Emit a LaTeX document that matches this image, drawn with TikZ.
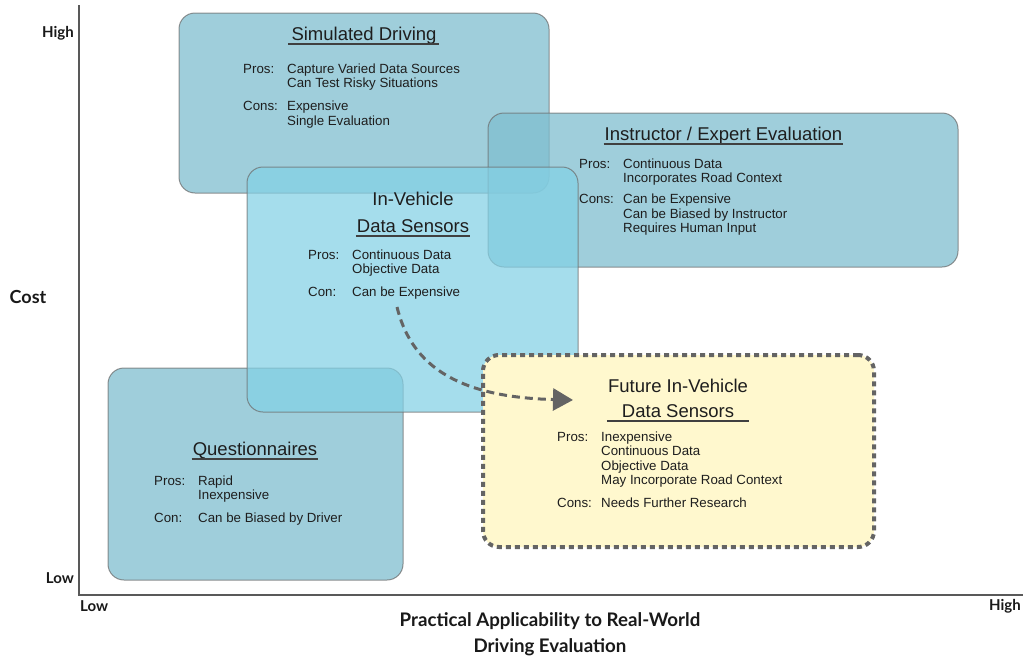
\documentclass[tikz,border=0pt]{standalone}
\usepackage{fontspec}
\setmainfont{Liberation Sans}
\newfontfamily\axisfont{Lato}
\usetikzlibrary{arrows.meta}
\definecolor{boxblue}{RGB}{127,190,207}
\definecolor{boxcyan}{RGB}{131,209,229}
\definecolor{futfill}{RGB}{255,248,206}
\definecolor{txt}{RGB}{30,30,30}
\definecolor{dashgray}{RGB}{100,100,100}
\definecolor{edgegray}{RGB}{110,110,110}
\newcommand{\prolab}[1]{\makebox[44pt][l]{#1}}
\tikzset{
  bluebox/.style={rectangle, rounded corners=16pt, fill=boxblue, fill opacity=0.75,
    draw=edgegray, draw opacity=0.75, line width=1pt, inner sep=0},
  cyanbox/.style={bluebox, fill=boxcyan, fill opacity=0.72},
  futbox/.style={rectangle, rounded corners=16pt, fill=futfill, draw=dashgray,
    line width=4pt, dash pattern=on 5pt off 4pt, inner sep=0},
  ttl/.style={font=\fontsize{18.5}{26}\selectfont, text=txt, inner sep=0, anchor=base},
  body/.style={font=\fontsize{13.3}{14.5}\selectfont, text=txt, inner sep=0, anchor=base west},
  uline/.style={draw=txt!85, line width=2.2pt},
  axislbl/.style={font=\axisfont\bfseries\fontsize{15}{17}\selectfont, text=black!90, inner sep=0},
  axistitle/.style={font=\axisfont\bfseries\fontsize{18.7}{26}\selectfont, text=black!90, inner sep=0, align=center},
  axisline/.style={draw=black!65, line width=1.8pt},
  flowarrow/.style={draw=dashgray, line width=3pt, dash pattern=on 8pt off 5pt,
    -{Triangle[length=20pt,width=22pt]}}
}
\begin{document}
\begin{tikzpicture}[x=1pt,y=-1pt]
\useasboundingbox[fill=white] (0,0) rectangle (1023,659);

% axes
\coordinate (ytop) at (79,5);
\coordinate (origin) at (79,595);
\coordinate (xend) at (1023,595);
\draw[axisline] (ytop) -- (origin) -- (xend);

% boxes
\node[bluebox, minimum width=370pt, minimum height=180pt] (sim) at (364,103) {};
\node[bluebox, minimum width=470pt, minimum height=154pt] (instr) at (723,190) {};
\node[bluebox, minimum width=295pt, minimum height=212pt] (quest) at (255.5,474) {};
\node[cyanbox, minimum width=331pt, minimum height=245pt] (inveh) at (412.5,289.5) {};
\node[futbox, minimum width=391pt, minimum height=192pt] (fut) at (678.5,451) {};

% Simulated Driving
\node[ttl] (simttl) at (364,40) {Simulated Driving};
\draw[uline] ([xshift=-3pt,yshift=-4pt]simttl.base west) -- ([xshift=2pt,yshift=-4pt]simttl.base east);
\node[body] (simtxt) at (243,73) {\begin{tabular}[t]{@{}l@{}l@{}}
\prolab{Pros:}&Capture Varied Data Sources\\
&Can Test Risky Situations\\[8.5pt]
\prolab{Cons:}&Expensive\\
&Single Evaluation
\end{tabular}};

% Instructor / Expert Evaluation
\node[ttl] (instrttl) at (723.5,140) {Instructor / Expert Evaluation};
\draw[uline] ([xshift=-1pt,yshift=-4pt]instrttl.base west) -- ([xshift=1pt,yshift=-4pt]instrttl.base east);
\node[body] (instrtxt) at (579,168) {\begin{tabular}[t]{@{}l@{}l@{}}
\prolab{Pros:}&Continuous Data\\
&Incorporates Road Context\\[6.5pt]
\prolab{Cons:}&Can be Expensive\\
&Can be Biased by Instructor\\
&Requires Human Input
\end{tabular}};

% In-Vehicle Data Sensors
\node[ttl] (invehttl) at (413,205) {In-Vehicle};
\node[ttl] (invehttlb) at (413,232) {Data Sensors};
\draw[uline] ([xshift=-1pt,yshift=-4pt]invehttlb.base west) -- ([xshift=1pt,yshift=-4pt]invehttlb.base east);
\node[body] (invehtxt) at (308,259) {\begin{tabular}[t]{@{}l@{}l@{}}
\prolab{Pros:}&Continuous Data\\
&Objective Data\\[8.5pt]
\prolab{Con:}&Can be Expensive
\end{tabular}};

% Questionnaires
\node[ttl] (questttl) at (255,455) {Questionnaires};
\draw[uline] ([xshift=-1pt,yshift=-4pt]questttl.base west) -- ([xshift=1pt,yshift=-4pt]questttl.base east);
\node[body] (questtxt) at (154,485) {\begin{tabular}[t]{@{}l@{}l@{}}
\prolab{Pros:}&Rapid\\
&Inexpensive\\[8.5pt]
\prolab{Con:}&Can be Biased by Driver
\end{tabular}};

% Future In-Vehicle Data Sensors
\node[ttl] (futttl) at (678,392) {Future In-Vehicle};
\node[ttl] (futttlb) at (678,417) {Data Sensors};
\draw[uline] ([xshift=-15pt,yshift=-4pt]futttlb.base west) -- ([xshift=15pt,yshift=-4pt]futttlb.base east);
\node[body] (futtxt) at (557,441) {\begin{tabular}[t]{@{}l@{}l@{}}
\prolab{Pros:}&Inexpensive\\
&Continuous Data\\
&Objective Data\\
&May Incorporate Road Context\\[8.5pt]
\prolab{Cons:}&Needs Further Research
\end{tabular}};

% arrow
\coordinate (arrS) at (397,307);
\coordinate (arrE) at (573,400);
\draw[flowarrow] (arrS) .. controls (410,360) and (450,397) .. (arrE);

% axis labels
\node[axislbl, anchor=east] (yhigh) at (74,33) {High};
\node[axislbl, anchor=east] (ylow) at (74,578) {Low};
\node[axislbl, font=\axisfont\bfseries\fontsize{18}{20}\selectfont] (ycost) at (28,297) {Cost};
\node[axislbl, anchor=west] (xlow) at (80,606) {Low};
\node[axislbl, anchor=east] (xhigh) at (1021,606) {High};
\node[axistitle, anchor=base] (xttl) at (550,652) {Practical Applicability to Real-World\\Driving Evaluation};
\end{tikzpicture}
\end{document}
